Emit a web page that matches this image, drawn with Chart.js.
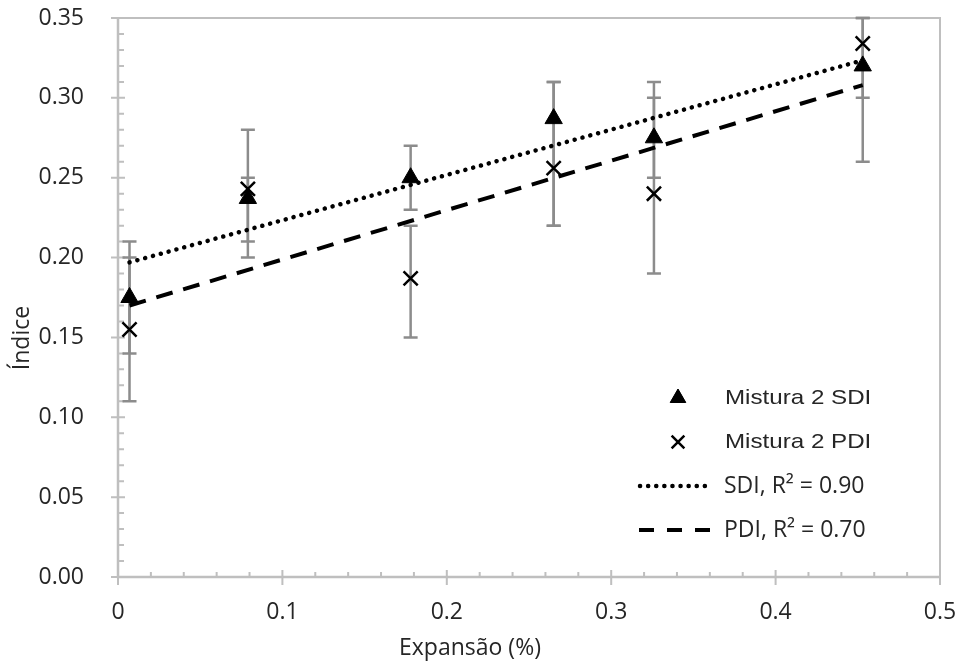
<!DOCTYPE html>
<html>
<head>
<meta charset="utf-8">
<script src="https://cdn.jsdelivr.net/npm/chart.js@4.4.1/dist/chart.umd.min.js"></script>
<style>
  body { margin: 0; background: #fff; }
  #wrap { width: 960px; height: 668px; }
</style>
</head>
<body>
<div id="wrap"><canvas id="chart" width="960" height="668"></canvas></div>
<script>
// Mistura 2 - indices vs expansion
const expansao = [0.007, 0.079, 0.178, 0.265, 0.326, 0.453];
const sdi = [0.175, 0.237, 0.250, 0.287, 0.275, 0.320];
const pdi = [0.155, 0.243, 0.187, 0.256, 0.240, 0.334];

// error bar limits (low / high)
const sdiLow  = [0.14, 0.20, 0.23, 0.22, 0.25, 0.26];
const sdiHigh = [0.21, 0.28, 0.27, 0.31, 0.30, 0.35];
const pdiLow  = [0.11, 0.21, 0.15, 0.22, 0.19, 0.30];
const pdiHigh = [0.20, 0.25, 0.22, 0.31, 0.31, 0.35];

// linear trend lines, end points
const fitX = [0.007, 0.453];
const sdiFit = [0.197, 0.3235];
const pdiFit = [0.170, 0.308];

const xTicks = [0, 0.1, 0.2, 0.3, 0.4, 0.5];
const yTicks = [0, 0.05, 0.10, 0.15, 0.20, 0.25, 0.30, 0.35];

const legendLabels = ['Mistura 2 SDI', 'Mistura 2 PDI', 'SDI, R\u00B2 = 0.90', 'PDI, R\u00B2 = 0.70'];
const xTitle = 'Expans\u00E3o (%)';
const yTitle = '\u00CDndice';

const axisGray = '#bfbfbf';
const barGray = '#8c8c8c';
const textColor = '#262626';
const segoeLike = '"Open Sans", "Noto Sans", sans-serif';

const pts = (xs, ys) => xs.map((x, i) => ({ x: x, y: ys[i] }));

// axis box, inside/crossing tick marks, error bars, titles
const decorations = {
  id: 'decorations',
  beforeDatasetsDraw(chart) {
    const { ctx, chartArea: a, scales: { x, y } } = chart;
    ctx.save();
    // top and right frame
    ctx.strokeStyle = axisGray;
    ctx.lineWidth = 2;
    ctx.beginPath();
    ctx.moveTo(a.left, a.top);
    ctx.lineTo(a.right, a.top);
    ctx.lineTo(a.right, a.bottom);
    ctx.stroke();
    // axes
    ctx.lineWidth = 2.5;
    ctx.beginPath();
    ctx.moveTo(a.left, a.top);
    ctx.lineTo(a.left, a.bottom);
    ctx.lineTo(a.right, a.bottom);
    ctx.stroke();
    // major and minor ticks
    ctx.lineWidth = 2;
    ctx.beginPath();
    for (let k = 0; k <= 35; k++) {
      const py = y.getPixelForValue(k / 100);
      if (k % 5 === 0) { ctx.moveTo(a.left - 7, py); ctx.lineTo(a.left + 7, py); }
      else { ctx.moveTo(a.left, py); ctx.lineTo(a.left + 6, py); }
    }
    for (let k = 0; k <= 25; k++) {
      const px = x.getPixelForValue(k / 50);
      if (k % 5 === 0) { ctx.moveTo(px, a.bottom - 7); ctx.lineTo(px, a.bottom + 8); }
      else { ctx.moveTo(px, a.bottom); ctx.lineTo(px, a.bottom - 5); }
    }
    ctx.stroke();

    // error bars
    ctx.strokeStyle = barGray;
    ctx.lineWidth = 2.5;
    const bars = (lo, hi) => {
      expansao.forEach((v, i) => {
        const px = x.getPixelForValue(v);
        const y1 = y.getPixelForValue(lo[i]);
        const y2 = y.getPixelForValue(hi[i]);
        ctx.beginPath();
        ctx.moveTo(px, y1); ctx.lineTo(px, y2);
        ctx.moveTo(px - 7, y1); ctx.lineTo(px + 7, y1);
        ctx.moveTo(px - 7, y2); ctx.lineTo(px + 7, y2);
        ctx.stroke();
      });
    };
    bars(sdiLow, sdiHigh);
    bars(pdiLow, pdiHigh);

    // axis titles
    ctx.fillStyle = textColor;
    ctx.font = '23px ' + segoeLike;
    ctx.textAlign = 'center';
    ctx.textBaseline = 'middle';
    ctx.fillText(xTitle, 470, 648);
    ctx.translate(22, 338);
    ctx.rotate(-Math.PI / 2);
    ctx.fillText(yTitle, 0, 0);
    ctx.restore();
  },
  afterDraw(chart) {
    const { ctx } = chart;
    const rows = [398, 442, 486, 530];
    ctx.save();
    ctx.fillStyle = '#000';
    ctx.strokeStyle = '#000';
    Chart.helpers.drawPoint(ctx, { pointStyle: 'triangle', radius: 9, borderWidth: 1 }, 678, rows[0]);
    ctx.fill();
    ctx.lineWidth = 2.5;
    Chart.helpers.drawPoint(ctx, { pointStyle: 'crossRot', radius: 9, borderWidth: 2.5 }, 678, rows[1]);
    // dotted sample
    ctx.lineWidth = 4.5;
    ctx.lineCap = 'round';
    ctx.setLineDash([0.1, 8]);
    ctx.beginPath(); ctx.moveTo(640, rows[2]); ctx.lineTo(710, rows[2]); ctx.stroke();
    // dashed sample
    ctx.lineCap = 'butt';
    ctx.lineWidth = 4;
    ctx.setLineDash([15, 13]);
    ctx.beginPath(); ctx.moveTo(639, rows[3]); ctx.lineTo(712, rows[3]); ctx.stroke();
    ctx.setLineDash([]);

    ctx.fillStyle = textColor;
    ctx.textAlign = 'left';
    ctx.textBaseline = 'middle';
    // Arial-style labels, widened a little
    ctx.save();
    ctx.translate(725, 0);
    ctx.scale(1.15, 1);
    ctx.font = '21px "Liberation Sans", Arial, sans-serif';
    ctx.fillText(legendLabels[0], 0, rows[0]);
    ctx.fillText(legendLabels[1], 0, rows[1]);
    ctx.restore();
    ctx.font = '23px ' + segoeLike;
    ctx.fillText(legendLabels[2], 724, rows[2]);
    ctx.fillText(legendLabels[3], 724, rows[3]);
    ctx.restore();
  }
};

new Chart(document.getElementById('chart'), {
  type: 'scatter',
  data: {
    datasets: [
      {
        label: legendLabels[2],
        data: pts(fitX, sdiFit),
        showLine: true,
        pointRadius: 0,
        borderColor: '#000',
        borderWidth: 4.5,
        borderCapStyle: 'round',
        borderDash: [0.1, 8],
        order: 3
      },
      {
        label: legendLabels[3],
        data: pts(fitX, pdiFit),
        showLine: true,
        pointRadius: 0,
        borderColor: '#000',
        borderWidth: 4,
        borderDash: [17, 11],
        order: 4
      },
      {
        label: legendLabels[0],
        data: pts(expansao, sdi),
        pointStyle: 'triangle',
        pointRadius: 10,
        backgroundColor: '#000',
        borderColor: '#000',
        borderWidth: 1,
        order: 1
      },
      {
        label: legendLabels[1],
        data: pts(expansao, pdi),
        pointStyle: 'crossRot',
        pointRadius: 10,
        borderColor: '#000',
        borderWidth: 2.5,
        order: 2
      }
    ]
  },
  options: {
    responsive: false,
    animation: false,
    layout: { padding: { top: 18, right: 20, left: 0, bottom: 0 } },
    plugins: { legend: { display: false }, tooltip: { enabled: false } },
    scales: {
      x: {
        type: 'linear',
        min: 0, max: 0.5,
        afterBuildTicks: s => { s.ticks = xTicks.map(v => ({ value: v })); },
        afterFit: s => { s.height = 91; s.paddingLeft = 0; s.paddingRight = 0; },
        grid: { display: false },
        border: { display: false },
        ticks: {
          padding: 14,
          color: textColor,
          font: { family: segoeLike, size: 23 },
          callback: v => String(v)
        }
      },
      y: {
        type: 'linear',
        min: 0, max: 0.35,
        afterBuildTicks: s => { s.ticks = yTicks.map(v => ({ value: v })); },
        afterFit: s => { s.width = 118; s.paddingTop = 0; s.paddingBottom = 0; },
        grid: { display: false },
        border: { display: false },
        ticks: {
          padding: 26,
          color: textColor,
          font: { family: segoeLike, size: 23 },
          callback: v => v.toFixed(2)
        }
      }
    }
  },
  plugins: [decorations]
});
</script>
</body>
</html>
